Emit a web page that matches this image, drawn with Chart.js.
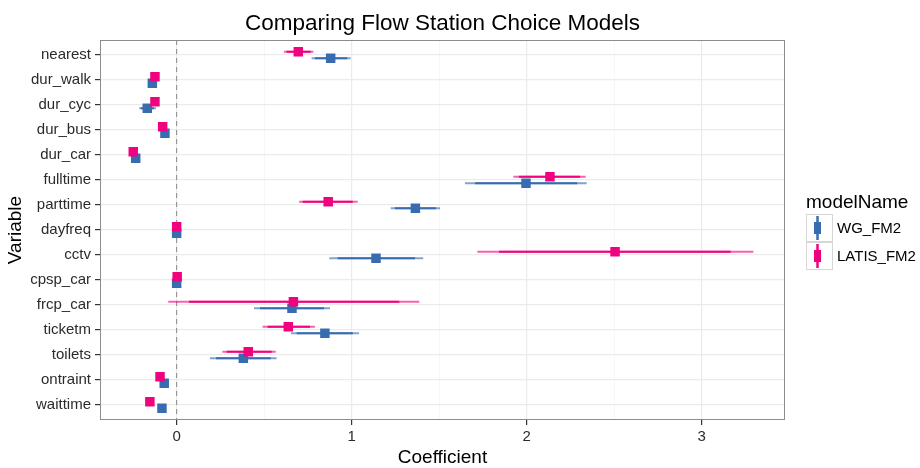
<!DOCTYPE html>
<html><head><meta charset="utf-8">
<script src="https://cdn.jsdelivr.net/npm/chart.js@4.4.1/dist/chart.umd.min.js"></script>
<style>html,body{margin:0;padding:0;background:#fff;}canvas{display:block}</style>
</head><body>
<canvas id="c" width="920" height="468"></canvas>
<script>
const titleText = 'Comparing Flow Station Choice Models';
const xTitle = 'Coefficient';
const yTitle = 'Variable';
const legendTitle = 'modelName';
const categories = ['nearest','dur_walk','dur_cyc','dur_bus','dur_car','fulltime','parttime','dayfreq','cctv','cpsp_car','frcp_car','ticketm','toilets','ontraint','waittime'];
const modelNames = ['WG_FM2','LATIS_FM2'];
const xTicks = [0, 0.5, 1, 1.5, 2, 2.5, 3];

const wgCoef = [0.88, -0.139, -0.168, -0.067, -0.234, 1.996, 1.364, 0.0, 1.139, 0.0, 0.659, 0.847, 0.381, -0.071, -0.084];
const wgLo95 = [0.771, -0.15, -0.214, -0.075, -0.245, 1.647, 1.223, -0.004, 0.872, -0.003, 0.442, 0.653, 0.19, -0.08, -0.095];
const wgHi95 = [0.994, -0.128, -0.118, -0.059, -0.223, 2.343, 1.505, 0.004, 1.409, 0.003, 0.876, 1.042, 0.571, -0.062, -0.073];
const wgLo90 = [0.79, -0.148, -0.205, -0.073, -0.243, 1.705, 1.247, -0.003, 0.92, -0.002, 0.476, 0.686, 0.225, -0.078, -0.093];
const wgHi90 = [0.975, -0.13, -0.13, -0.061, -0.225, 2.289, 1.482, 0.003, 1.362, 0.002, 0.842, 1.006, 0.537, -0.064, -0.075];

const latisCoef = [0.695, -0.124, -0.124, -0.08, -0.248, 2.133, 0.866, 0.0, 2.505, 0.003, 0.667, 0.638, 0.409, -0.095, -0.153];
const latisLo95 = [0.613, -0.134, -0.133, -0.088, -0.258, 1.924, 0.70, -0.004, 1.718, -0.002, -0.048, 0.491, 0.261, -0.104, -0.162];
const latisHi95 = [0.781, -0.114, -0.115, -0.072, -0.238, 2.337, 1.034, 0.004, 3.295, 0.008, 1.386, 0.79, 0.566, -0.086, -0.144];
const latisLo90 = [0.628, -0.132, -0.131, -0.087, -0.256, 1.956, 0.72, -0.003, 1.842, -0.001, 0.07, 0.52, 0.286, -0.102, -0.16];
const latisHi90 = [0.766, -0.116, -0.117, -0.073, -0.24, 2.305, 1.006, 0.003, 3.166, 0.007, 1.272, 0.762, 0.543, -0.088, -0.146];

const FONT = '"Liberation Sans", Arial, sans-serif';
const colors = ['#386CB0', '#F0027F'];
const lightColors = ['rgba(56,108,176,0.62)', 'rgba(240,2,127,0.62)'];
const dodge = [0.13, -0.13];
const yMin = -0.6, yMax = 14.6;

function segs(lo, hi, off) {
  const d = [];
  categories.forEach((c, i) => {
    d.push({x: lo[i], y: i + off}, {x: hi[i], y: i + off}, {x: null, y: null});
  });
  return d;
}
function pts(v, off) { return categories.map((c, i) => ({x: v[i], y: i + off})); }

const models = [
  {coef: wgCoef, lo95: wgLo95, hi95: wgHi95, lo90: wgLo90, hi90: wgHi90},
  {coef: latisCoef, lo95: latisLo95, hi95: latisHi95, lo90: latisLo90, hi90: latisHi90}
];

const datasets = [];
models.forEach((m, k) => {
  const base = k === 1 ? 0 : 3;
  datasets.push({label: modelNames[k] + ' 95', data: segs(m.lo95, m.hi95, dodge[k]), borderColor: lightColors[k], borderWidth: 2, pointRadius: 0, showLine: true, spanGaps: false, order: base + 2});
  datasets.push({label: modelNames[k] + ' 90', data: segs(m.lo90, m.hi90, dodge[k]), borderColor: colors[k], borderWidth: 2.2, pointRadius: 0, showLine: true, spanGaps: false, order: base + 1});
  datasets.push({label: modelNames[k], data: pts(m.coef, dodge[k]), showLine: false, pointStyle: 'rect', pointRadius: 6.7, pointHoverRadius: 6.7, pointBackgroundColor: colors[k], pointBorderWidth: 0, borderColor: colors[k], order: base});
});
datasets.push({label: 'zero', data: [{x: 0, y: yMin}, {x: 0, y: yMax}], borderColor: '#8a8a8a', borderWidth: 1, borderDash: [5, 4], pointRadius: 0, showLine: true, order: 10});

const decor = {
  id: 'decor',
  afterDatasetsDraw(chart) {
    const ctx = chart.ctx, a = chart.chartArea;
    ctx.save();
    ctx.strokeStyle = '#8c8c8c';
    ctx.lineWidth = 1;
    ctx.strokeRect(Math.round(a.left) + 0.5, Math.round(a.top) + 0.5, Math.round(a.right - a.left) - 1, Math.round(a.bottom - a.top) - 1);
    ctx.restore();
  },
  afterDraw(chart) {
    const ctx = chart.ctx, a = chart.chartArea;
    ctx.save();
    ctx.fillStyle = '#000';
    ctx.font = '22.5px ' + FONT;
    ctx.textAlign = 'center';
    ctx.textBaseline = 'middle';
    ctx.fillText(titleText, (a.left + a.right) / 2, 23.5);
    // legend
    const lx = a.right + 21;
    ctx.textAlign = 'left';
    ctx.font = '19px ' + FONT;
    ctx.fillText(legendTitle, lx, 203);
    ctx.font = '15px ' + FONT;
    const kw = 27, kh = 28, ky0 = 214;
    modelNames.forEach((name, k) => {
      const ky = ky0 + k * kh;
      ctx.fillStyle = '#fff';
      ctx.fillRect(lx, ky, kw, kh);
      ctx.strokeStyle = '#d6d6d6';
      ctx.lineWidth = 1;
      ctx.strokeRect(lx + 0.5, ky + 0.5, kw - 1, kh - 1);
      const cx = lx + kw / 2 - 2, cy = ky + kh / 2;
      ctx.strokeStyle = colors[k];
      ctx.lineWidth = 2.5;
      ctx.beginPath(); ctx.moveTo(cx, ky + 2); ctx.lineTo(cx, ky + kh - 2); ctx.stroke();
      ctx.fillStyle = colors[k];
      ctx.fillRect(cx - 3.5, cy - 6, 7, 12);
      ctx.fillStyle = '#000';
      ctx.fillText(name, lx + 31, cy + 1);
    });
    ctx.restore();
  }
};

new Chart(document.getElementById('c'), {
  type: 'line',
  data: {datasets},
  plugins: [decor],
  options: {
    responsive: false,
    devicePixelRatio: 1,
    animation: false,
    events: [],
    layout: {padding: {top: 40, right: 135, left: 0, bottom: 0}},
    plugins: {legend: {display: false}, tooltip: {enabled: false}, title: {display: false}},
    scales: {
      x: {
        type: 'linear', min: -0.438, max: 3.476,
        afterBuildTicks(s) { s.ticks = xTicks.map(v => ({value: v})); },
        afterFit(s) { s.height = 48; },
        border: {display: false},
        grid: {
          color: c => (c.tick && Number.isInteger(c.tick.value)) ? '#ebebeb' : '#f5f5f5',
          lineWidth: c => (c.tick && Number.isInteger(c.tick.value)) ? 1.2 : 0.8,
          tickColor: c => (c.tick && Number.isInteger(c.tick.value)) ? '#333' : 'rgba(0,0,0,0)',
          tickLength: 5
        },
        ticks: {
          autoSkip: false, maxRotation: 0, padding: 3, color: '#2b2b2b',
          font: {family: FONT, size: 15},
          callback: v => Number.isInteger(v) ? String(v) : ''
        },
        title: {display: true, text: xTitle, color: '#000', font: {family: FONT, size: 19, lineHeight: 1.05}, padding: {top: 0, bottom: 0}}
      },
      y: {
        type: 'linear', reverse: true, min: yMin, max: yMax,
        afterBuildTicks(s) { s.ticks = categories.map((c, i) => ({value: i})); },
        afterFit(s) { s.width = 100; },
        border: {display: false},
        grid: {color: '#ebebeb', lineWidth: 1.2, tickColor: '#333', tickLength: 5},
        ticks: {
          autoSkip: false, padding: 4, color: '#2b2b2b',
          font: {family: FONT, size: 15},
          callback: v => categories[v] !== undefined ? categories[v] : ''
        },
        title: {display: true, text: yTitle, color: '#000', font: {family: FONT, size: 19}, padding: {top: 4, bottom: 0}}
      }
    }
  }
});
</script>
</body></html>
